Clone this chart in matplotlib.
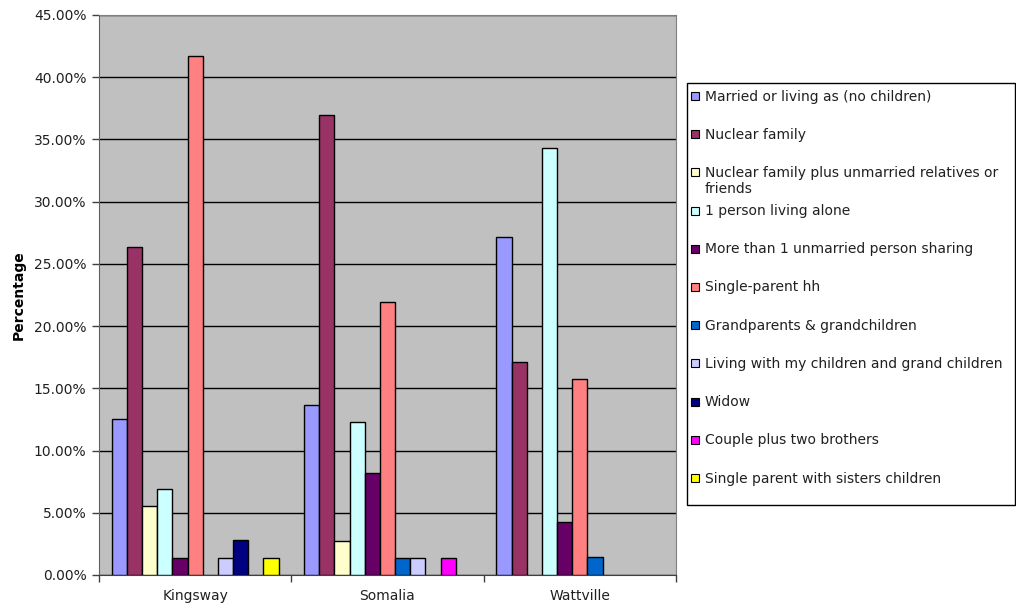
import matplotlib
matplotlib.use('Agg')
import matplotlib.pyplot as plt
from matplotlib.patches import Rectangle
from matplotlib.ticker import FuncFormatter, FixedLocator

# data (percentages)
groups = ['Kingsway', 'Somalia', 'Wattville']
series = ['Married or living as (no children)',
          'Nuclear family',
          'Nuclear family plus unmarried relatives or\nfriends',
          '1 person living alone',
          'More than 1 unmarried person sharing',
          'Single-parent hh',
          'Grandparents & grandchildren',
          'Living with my children and grand children',
          'Widow',
          'Couple plus two brothers',
          'Single parent with sisters children']
kingsway = [12.50, 26.39, 5.56, 6.94, 1.39, 41.67, 0, 1.39, 2.78, 0, 1.39]
somalia = [13.70, 36.99, 2.74, 12.33, 8.22, 21.92, 1.37, 1.37, 0, 1.37, 0]
wattville = [27.14, 17.14, 0, 34.29, 4.29, 15.71, 1.43, 0, 0, 0, 0]
colors = ['#9999FF', '#993366', '#FFFFCC', '#CCFFFF', '#660066', '#FF8080',
          '#0066CC', '#CCCCFF', '#000080', '#FF00FF', '#FFFF00']

values = [kingsway, somalia, wattville]

W, H = 1016, 606
fs = 10
fig = plt.figure(figsize=(W / 100, H / 100), dpi=100)
fig.patch.set_facecolor('white')

# plot area
ax = fig.add_axes([99 / W, 31 / H, 577 / W, 560 / H])
ax.set_facecolor('#C0C0C0')
ax.set_xlim(0, 3)
ax.set_ylim(0, 45)

bar_w = 0.0789
offset = 0.066
for gi, vals in enumerate(values):
    for si, v in enumerate(vals):
        if v == 0:
            continue
        ax.bar(gi + offset + bar_w * (si + 0.5), v, width=bar_w,
               color=colors[si], edgecolor='black', linewidth=1, zorder=3)

# gridlines
ax.yaxis.set_major_locator(FixedLocator([i * 5 for i in range(10)]))
ax.yaxis.grid(True, color='black', linewidth=1, zorder=1)
ax.set_axisbelow(True)
ax.yaxis.set_major_formatter(FuncFormatter(lambda y, p: f'{y:.2f}%'))
ax.tick_params(axis='y', direction='out', length=5, width=1, color='#404040',
               labelsize=fs, pad=4, labelcolor='#202020')

# x ticks on group boundaries, labels centered
ax.set_xticks([0, 1, 2, 3])
ax.set_xticklabels([])
ax.set_xticks([0.5, 1.5, 2.5], minor=True)
ax.set_xticklabels(groups, minor=True, fontsize=fs, color='#202020')
ax.tick_params(axis='x', which='major', direction='out', length=5, width=1, color='#404040')
ax.tick_params(axis='x', which='minor', length=0, pad=10)

for side in ['top', 'right']:
    ax.spines[side].set_color('#808080')
ax.spines['left'].set_color('#606060')
ax.spines['bottom'].set_color('#404040')

ax.set_ylabel('Percentage', fontsize=fs, fontweight='bold')
ax.yaxis.set_label_coords((26 - 99) / 577, 0.5)

# legend box drawn by hand to keep Excel spacing
box_x0, box_x1 = 687, 1015
box_y0, box_y1 = 83, 505
fig.patches.append(Rectangle((box_x0 / W, 1 - box_y1 / H), (box_x1 - box_x0) / W,
                             (box_y1 - box_y0) / H, transform=fig.transFigure,
                             facecolor='white', edgecolor='black', linewidth=1))
y0 = 96
step = 38.2
for i, name in enumerate(series):
    yc = y0 + step * i
    fig.patches.append(Rectangle((691 / W, 1 - (yc + 4) / H), 8 / W, 8 / H,
                                 transform=fig.transFigure, facecolor=colors[i],
                                 edgecolor='black', linewidth=0.8))
    fig.text(705 / W, 1 - (yc - 6.5) / H, name, fontsize=fs, va='top', ha='left',
             linespacing=1.15, color='#202020')

fig.savefig('out.png', dpi=100)
